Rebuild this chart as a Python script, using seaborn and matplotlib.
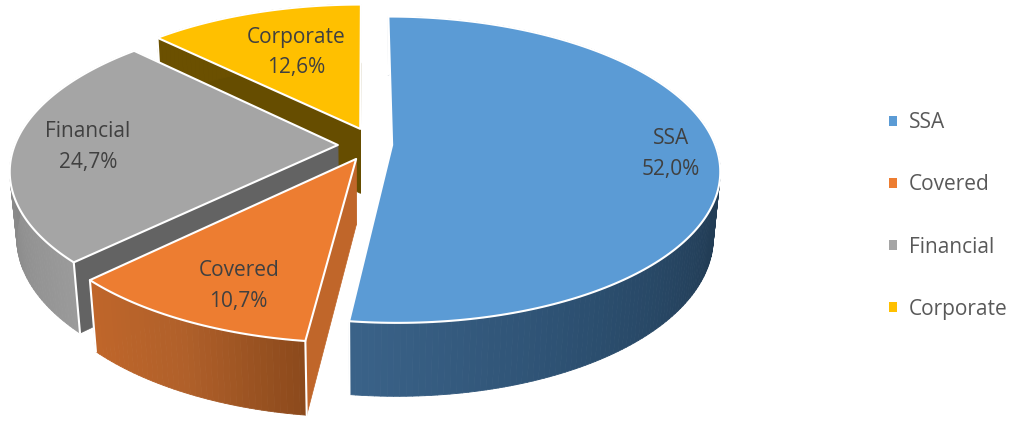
import numpy as np
import matplotlib
matplotlib.use("Agg")
import matplotlib.pyplot as plt
from matplotlib.collections import PolyCollection
from matplotlib.patches import Polygon, Patch
import seaborn as sns

categories = ["SSA", "Covered", "Financial", "Corporate"]
values = [52.0, 10.7, 24.7, 12.6]
value_labels = ["52,0%", "10,7%", "24,7%", "12,6%"]

sns.set_theme(style="white")
plt.rcParams['font.family'] = ['Open Sans', 'DejaVu Sans']

top_colors = ["#5B9BD5", "#ED7D31", "#A5A5A5", "#FFC000"]
side_stops = [["#22405a", "#203a50", "#203a50", "#223d56", "#2c4f70", "#3a6288"],
              ["#8c4a1c", "#b0602a", "#c0662a"],
              ["#9a9a9a", "#8c8c8c", "#808080", "#6c6c6c"],
              ["#6b5000", "#6b5000"]]
wall_colors = [None, "#C0662A", "#636363", "#664D00"]
explode_x = [0.084, -0.027, -0.084, -0.015]
explode_y = [0.0, -0.092, 0.0, 0.11]
label_x = [0.94, -0.34, -0.857, -0.236]
label_y = [-0.046, -0.81, 0.0, 0.706]
text_color = "#404040"

CX, CY = 365.0, 145.0
ELEV = np.radians(27.5)
DIST = 5.5
FOCAL = 1777.0
DEPTH = 0.232


def project(x, y, z=0.0):
    x, y, z = np.asarray(x, float), np.asarray(y, float), np.asarray(z, float)
    yc = y * np.sin(ELEV) + z * np.cos(ELEV)
    zc = DIST + y * np.cos(ELEV) - z * np.sin(ELEV)
    return CX + FOCAL * x / zc, CY - FOCAL * yc / zc


fig = plt.figure(figsize=(10.12, 4.21), dpi=100)
ax = fig.add_axes([0, 0, 1, 1])
ax.set_xlim(0, 1012)
ax.set_ylim(421, 0)
ax.axis("off")

total = sum(values)
edges = np.cumsum([0] + values) / total * 2 * np.pi
EDGE = dict(edgecolor="white", linewidth=1.5, joinstyle="round")
z = 1

for i in [3, 2, 0, 1]:
    a0, a1 = edges[i], edges[i + 1]
    ox, oy = explode_x[i], explode_y[i]
    th = np.linspace(a0, a1, max(int((a1 - a0) * 60), 8))
    rx, ry = ox + np.sin(th), oy + np.cos(th)

    # radial walls (the big slice's walls are not visible in this view)
    if wall_colors[i] is not None:
        for a in (a0, a1):
            wx = [ox, ox + np.sin(a), ox + np.sin(a), ox]
            wy = [oy, oy + np.cos(a), oy + np.cos(a), oy]
            wz = [0, 0, -DEPTH, -DEPTH]
            sx, sy = project(wx, wy, wz)
            ax.add_patch(Polygon(np.c_[sx, sy], facecolor=wall_colors[i],
                                 edgecolor=wall_colors[i], linewidth=0.5, zorder=z))
            z += 1

    # curved outer side, shaded along the arc
    tx, ty = project(rx, ry, 0.0)
    bx, by = project(rx, ry, -DEPTH)
    quads = [[(tx[k], ty[k]), (tx[k + 1], ty[k + 1]), (bx[k + 1], by[k + 1]), (bx[k], by[k])]
             for k in range(len(th) - 1)]
    shades = sns.blend_palette(side_stops[i], n_colors=len(quads))
    ax.add_collection(PolyCollection(quads, facecolors=shades, edgecolors=shades,
                                     linewidths=0.6, zorder=z))
    z += 1
    for k in (0, -1):
        ax.plot([tx[k], bx[k]], [ty[k], by[k]], color="white", lw=1.5,
                solid_capstyle="round", zorder=z)
        z += 1

    # top face
    fx, fy = project(np.r_[ox, rx], np.r_[oy, ry], 0.0)
    ax.add_patch(Polygon(np.c_[fx, fy], facecolor=top_colors[i], zorder=z, **EDGE))
    z += 1

for i, (name, lab) in enumerate(zip(categories, value_labels)):
    lx, ly = project(label_x[i], label_y[i], 0.0)
    ax.text(lx, ly + 2, f"{name}\n{lab}", ha="center", va="center", fontsize=15,
            color=text_color, linespacing=1.6, zorder=z)

handles = [Patch(facecolor=c, edgecolor="none", label=n) for c, n in zip(top_colors, categories)]
ax.legend(handles=handles, loc="center left", bbox_to_anchor=(889 / 1012, 1 - 216 / 421),
          frameon=False, fontsize=15, labelcolor="#595959", handlelength=0.38, handleheight=0.38,
          handletextpad=0.58, labelspacing=1.97, borderpad=0, borderaxespad=0)

fig.savefig("out.png", dpi=100)
